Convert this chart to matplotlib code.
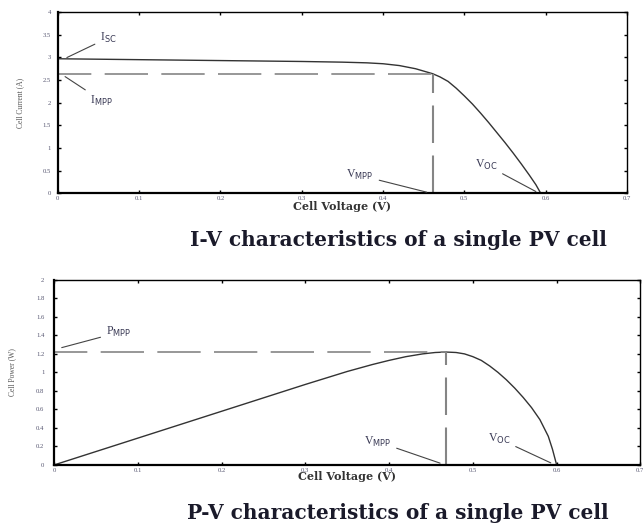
import numpy as np
import matplotlib.pyplot as plt

# I-V curve
volt_iv = [0, 0.1, 0.2, 0.3, 0.35, 0.38, 0.40, 0.42, 0.44, 0.461, 0.47, 0.48, 0.49, 0.50,
           0.51, 0.52, 0.53, 0.54, 0.55, 0.56, 0.57, 0.58, 0.588, 0.594]
curr_iv = [2.97, 2.95, 2.93, 2.91, 2.895, 2.88, 2.86, 2.82, 2.75, 2.64, 2.57, 2.47, 2.32, 2.15,
           1.97, 1.77, 1.56, 1.34, 1.12, 0.89, 0.65, 0.40, 0.19, 0.0]
i_mpp, v_mpp_iv, i_sc, v_oc_iv = 2.64, 0.461, 2.97, 0.594

# P-V curve
volt_pv = [0, 0.1, 0.2, 0.3, 0.35, 0.38, 0.4, 0.42, 0.44, 0.455, 0.468, 0.48, 0.49, 0.5, 0.51,
           0.52, 0.53, 0.54, 0.55, 0.56, 0.57, 0.58, 0.59, 0.595, 0.6]
power_pv = [0, 0.29, 0.58, 0.87, 1.01, 1.085, 1.13, 1.17, 1.20, 1.215, 1.22, 1.215, 1.20, 1.17,
            1.13, 1.07, 1.0, 0.92, 0.83, 0.73, 0.62, 0.49, 0.31, 0.17, 0.0]
p_mpp, v_mpp_pv, v_oc_pv = 1.22, 0.468, 0.6

serif = ['Liberation Serif', 'DejaVu Serif']
wide = ['DejaVu Serif']
dash_h = (6, (26, 8))
dash_v = (0, (18, 6))
grey = '#858585'
txt_col = '#3a3a55'

fig = plt.figure(figsize=(6.43, 5.26), dpi=100)
ax1 = fig.add_axes([0.090, 0.6325, 0.885, 0.3445])
ax2 = fig.add_axes([0.084, 0.116, 0.912, 0.352])


def style(ax, yticks, pad):
    ax.set_xlim(0, 0.7)
    ax.set_xticks(np.arange(0, 0.71, 0.1))
    ax.set_xticklabels(['0', '0.1', '0.2', '0.3', '0.4', '0.5', '0.6', '0.7'])
    ax.set_yticks(yticks)
    ax.set_yticklabels(['%g' % t for t in yticks])
    ax.tick_params(direction='in', length=2.5, width=1, top=True, right=True,
                   labelsize=4.8, labelcolor='#555570')
    ax.tick_params(axis='y', pad=pad)
    ax.tick_params(axis='x', pad=2)
    for lab in ax.get_xticklabels() + ax.get_yticklabels():
        lab.set_family(serif)
    for s in ax.spines.values():
        s.set_linewidth(1.0)
    ax.spines['left'].set_linewidth(1.6)
    ax.spines['bottom'].set_linewidth(1.6)


arrow = dict(arrowstyle='-', color='#444', lw=0.8)

# ---------------- I-V ----------------
style(ax1, np.arange(0, 4.01, 0.5), 5)
ax1.set_ylim(0, 4)
ax1.plot(volt_iv, curr_iv, color='#333333', lw=1.0)
ax1.plot([0, v_mpp_iv], [i_mpp, i_mpp], color=grey, lw=1.2, ls=dash_h)
ax1.plot([v_mpp_iv, v_mpp_iv], [0, i_mpp], color=grey, lw=1.5, ls=dash_v)
ax1.set_xlabel('Cell Voltage (V)', family=wide, fontsize=8, fontweight='bold',
               labelpad=0, color='#333')
ax1.set_ylabel('Cell Current (A)', family=serif, fontsize=5.5, labelpad=13, color='#555')

ax1.annotate('I$_{\\rm SC}$', xy=(0.008, i_sc), xytext=(0.052, 3.37),
             fontsize=8.5, family=serif, color=txt_col, arrowprops=arrow)
ax1.annotate('I$_{\\rm MPP}$', xy=(0.006, i_mpp - 0.03), xytext=(0.040, 1.98),
             fontsize=8.5, family=serif, color=txt_col, arrowprops=arrow)
ax1.annotate('V$_{\\rm MPP}$', xy=(v_mpp_iv - 0.004, 0.01), xytext=(0.355, 0.33),
             fontsize=8.5, family=serif, color=txt_col, arrowprops=arrow)
ax1.annotate('V$_{\\rm OC}$', xy=(v_oc_iv - 0.003, 0.01), xytext=(0.513, 0.56),
             fontsize=8.5, family=serif, color=txt_col, arrowprops=arrow)

# ---------------- P-V ----------------
style(ax2, np.arange(0, 2.01, 0.2), 7)
ax2.set_ylim(0, 2)
ax2.plot(volt_pv, power_pv, color='#333333', lw=1.0)
ax2.plot([0, v_mpp_pv], [p_mpp, p_mpp], color=grey, lw=1.2, ls=dash_h)
ax2.plot([v_mpp_pv, v_mpp_pv], [0, p_mpp], color=grey, lw=1.5, ls=dash_v)
ax2.set_xlabel('Cell Voltage (V)', family=wide, fontsize=8, fontweight='bold',
               labelpad=-1, color='#333')
ax2.set_ylabel('Cell Power (W)', family=serif, fontsize=5.5, labelpad=14, color='#555')

ax2.annotate('P$_{\\rm MPP}$', xy=(0.006, p_mpp + 0.04), xytext=(0.062, 1.40),
             fontsize=8.5, family=serif, color=txt_col, arrowprops=arrow)
ax2.annotate('V$_{\\rm MPP}$', xy=(v_mpp_pv - 0.004, 0.01), xytext=(0.37, 0.22),
             fontsize=8.5, family=serif, color=txt_col, arrowprops=arrow)
ax2.annotate('V$_{\\rm OC}$', xy=(v_oc_pv - 0.004, 0.01), xytext=(0.518, 0.25),
             fontsize=8.5, family=serif, color=txt_col, arrowprops=arrow)

fig.text(0.619, 0.544, 'I-V characteristics of a single PV cell', family=wide,
         fontsize=14.5, fontweight='bold', ha='center', va='center', color='#1a1a2a')
fig.text(0.619, 0.025, 'P-V characteristics of a single PV cell', family=wide,
         fontsize=14.5, fontweight='bold', ha='center', va='center', color='#1a1a2a')

fig.savefig('out.png', dpi=100)
